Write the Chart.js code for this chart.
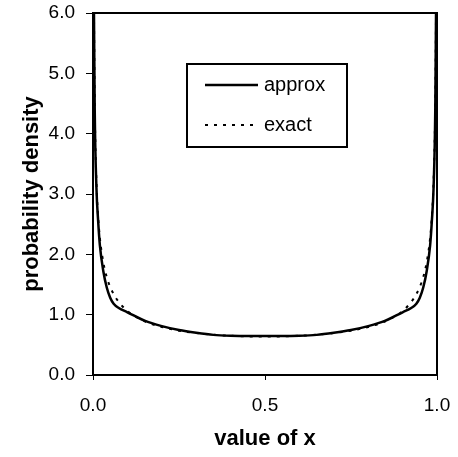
<!DOCTYPE html>
<html>
<head>
<meta charset="utf-8">
<script src="https://cdn.jsdelivr.net/npm/chart.js@4.4.1/dist/chart.umd.min.js"></script>
<style>
  html, body { margin: 0; padding: 0; background: #fff; }
  #wrap { width: 458px; height: 457px; }
</style>
</head>
<body>
<div id="wrap"><canvas id="c" width="458" height="457"></canvas></div>
<script>
// values of x (mirrored around 0.5)
const X_VALUES = [0.0028, 0.005, 0.01, 0.015, 0.02, 0.03, 0.04, 0.05, 0.06, 0.075, 0.1, 0.15, 0.2, 0.25, 0.3, 0.35, 0.4, 0.45,
                  0.5,
                  0.55, 0.6, 0.65, 0.7, 0.75, 0.8, 0.85, 0.9, 0.925, 0.94, 0.95, 0.96, 0.97, 0.98, 0.985, 0.99, 0.995, 0.9972];

const APPROX = [6.0, 4.4, 3.1, 2.55, 2.15, 1.72, 1.45, 1.28, 1.18, 1.11, 1.04, 0.90, 0.81, 0.745, 0.70, 0.665, 0.65, 0.645,
                0.645,
                0.645, 0.65, 0.665, 0.70, 0.745, 0.81, 0.90, 1.04, 1.11, 1.18, 1.28, 1.45, 1.72, 2.15, 2.55, 3.1, 4.4, 6.0];

const EXACT = [6.0, 4.51, 3.20, 2.62, 2.27, 1.87, 1.62, 1.46, 1.34, 1.21, 1.06, 0.891, 0.796, 0.735, 0.695, 0.667, 0.650, 0.640,
               0.637,
               0.640, 0.650, 0.667, 0.695, 0.735, 0.796, 0.891, 1.06, 1.21, 1.34, 1.46, 1.62, 1.87, 2.27, 2.62, 3.20, 4.51, 6.0];

const SERIES_LABELS = ['approx', 'exact'];
const Y_TICKS = [0, 1, 2, 3, 4, 5, 6];
const X_TICKS = [0, 0.5, 1];

const FONT = '"Liberation Sans", Arial, sans-serif';

function toPoints(ys) {
    return X_VALUES.map((x, i) => ({ x: x, y: ys[i] }));
}

// frame round the plot + legend box inside
const framePlugin = {
    id: 'frame',
    afterDatasetsDraw(chart) {
        const { ctx, chartArea: a } = chart;
        ctx.save();
        ctx.strokeStyle = '#000';
        ctx.lineWidth = 2;
        ctx.beginPath();
        ctx.moveTo(a.left, a.top);
        ctx.lineTo(a.right, a.top);
        ctx.lineTo(a.right, a.bottom);
        ctx.stroke();

        // legend
        const bx = 187, by = 64, bw = 160, bh = 83;
        ctx.lineWidth = 2;
        ctx.strokeRect(bx, by, bw, bh);
        chart.data.datasets.forEach((ds, i) => {
            const y = by + 21 + i * 40;
            ctx.beginPath();
            ctx.setLineDash(ds.borderDash || []);
            ctx.lineWidth = ds.borderWidth;
            ctx.moveTo(bx + 18, y);
            ctx.lineTo(bx + 71, y);
            ctx.stroke();
            ctx.setLineDash([]);
            ctx.fillStyle = '#000';
            ctx.font = '20px ' + FONT;
            ctx.textBaseline = 'middle';
            ctx.textAlign = 'left';
            ctx.fillText(ds.label, bx + 77, y);
        });
        ctx.restore();
    }
};

new Chart(document.getElementById('c'), {
    type: 'scatter',
    data: {
        datasets: [
            {
                label: SERIES_LABELS[0],
                data: toPoints(APPROX),
                showLine: true,
                borderColor: '#000',
                borderWidth: 2.5,
                pointRadius: 0,
                cubicInterpolationMode: 'monotone'
            },
            {
                label: SERIES_LABELS[1],
                data: toPoints(EXACT),
                showLine: true,
                borderColor: '#000',
                borderWidth: 2,
                borderDash: [3, 6],
                pointRadius: 0,
                cubicInterpolationMode: 'monotone'
            }
        ]
    },
    options: {
        responsive: false,
        animation: false,
        events: [],
        layout: { padding: { left: 19, right: 21, top: 13, bottom: 5 } },
        plugins: { legend: { display: false }, tooltip: { enabled: false } },
        scales: {
            x: {
                type: 'linear',
                min: 0,
                max: 1,
                afterBuildTicks: (s) => { s.ticks = X_TICKS.map(v => ({ value: v })); },
                afterFit: (s) => { s.height = 77; s.paddingLeft = 0; s.paddingRight = 0; },
                grid: { drawOnChartArea: false, tickLength: 5, color: '#000', lineWidth: 1 },
                border: { color: '#000', width: 2 },
                ticks: {
                    color: '#000',
                    padding: 14,
                    font: { family: FONT, size: 19 },
                    callback: (v) => Number(v).toFixed(1)
                },
                title: {
                    display: true,
                    text: 'value of x',
                    color: '#000',
                    padding: 0,
                    font: { family: FONT, size: 22, weight: 'bold' }
                }
            },
            y: {
                min: 0,
                max: 6,
                afterBuildTicks: (s) => { s.ticks = Y_TICKS.map(v => ({ value: v })); },
                afterFit: (s) => { s.width = 74; s.paddingTop = 0; s.paddingBottom = 0; },
                grid: { drawOnChartArea: false, tickLength: 7, color: '#000', lineWidth: 1 },
                border: { color: '#000', width: 2 },
                ticks: {
                    color: '#000',
                    padding: 11,
                    font: { family: FONT, size: 19 },
                    callback: (v) => Number(v).toFixed(1)
                },
                title: {
                    display: true,
                    text: 'probability density',
                    color: '#000',
                    padding: 0,
                    font: { family: FONT, size: 22, weight: 'bold' }
                }
            }
        }
    },
    plugins: [framePlugin]
});
</script>
</body>
</html>
